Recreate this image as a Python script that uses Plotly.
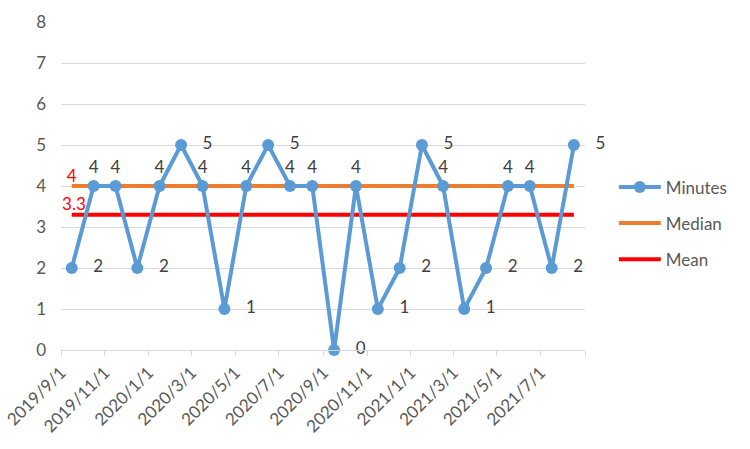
import plotly.graph_objects as go
import pandas as pd

dates = pd.date_range("2019-09-01", periods=24, freq="MS").strftime("%Y-%m-%d").tolist()
minutes = [2, 4, 4, 2, 4, 5, 4, 1, 4, 5, 4, 4, 0, 4, 1, 2, 5, 4, 1, 2, 4, 4, 2, 5]
median_val = 4
mean_val = 3.3

tick_dates = pd.date_range("2019-09-01", "2021-09-01", freq="2MS").strftime("%Y-%m-%d").tolist()
tick_labels = ["2019/9/1", "2019/11/1", "2020/1/1", "2020/3/1", "2020/5/1", "2020/7/1",
               "2020/9/1", "2020/11/1", "2021/1/1", "2021/3/1", "2021/5/1", "2021/7/1", ""]

median = [median_val] * len(dates)
mean = [mean_val] * len(dates)

FONT = "Lato"
TXT = "#404040"
FS = 17

pos = ["top center" if v == 4 else "middle right" for v in minutes]
labels = [str(v) if v == 4 else "   " + str(v) for v in minutes]

fig = go.Figure()
fig.add_trace(go.Scatter(
    x=dates, y=median, name="Median", mode="lines+text",
    xperiod="M1", xperiodalignment="middle", cliponaxis=False,
    line=dict(color="#ED7D31", width=4),
    text=[str(median_val)] + [""] * (len(dates) - 1), textposition="top center",
    textfont=dict(color="#FF0000", size=FS, family=FONT),
    legendgroup="b", legendrank=2,
))
fig.add_trace(go.Scatter(
    x=dates, y=mean, name="Mean", mode="lines+text",
    xperiod="M1", xperiodalignment="middle", cliponaxis=False,
    line=dict(color="#FF0000", width=4),
    text=[" " + str(mean_val)] + [""] * (len(dates) - 1), textposition="top center",
    textfont=dict(color="#FF0000", size=FS, family=FONT),
    legendgroup="c", legendrank=3,
))
fig.add_trace(go.Scatter(
    x=dates, y=minutes, name="Minutes", mode="lines+markers+text",
    xperiod="M1", xperiodalignment="middle", cliponaxis=False,
    line=dict(color="#5B9BD5", width=4),
    marker=dict(color="#5B9BD5", size=12),
    text=labels, textposition=pos,
    textfont=dict(color=TXT, size=FS, family=FONT),
    legendgroup="a", legendrank=1,
))

fig.update_layout(
    width=750, height=449,
    margin=dict(l=61, r=165, t=22, b=99),
    paper_bgcolor="white", plot_bgcolor="white",
    font=dict(family=FONT, color="#595959", size=FS),
    legend=dict(x=1.055, y=0.386, yanchor="middle", xanchor="left",
                traceorder="grouped", tracegroupgap=11, itemwidth=42,
                font=dict(size=FS, color="#595959")),
    xaxis=dict(
        type="date", automargin=False,
        range=["2019-09-01", "2021-09-01"],
        tickvals=tick_dates, ticktext=tick_labels,
        tickangle=-45, showgrid=False, showline=True, linecolor="#D9D9D9", linewidth=1,
        ticks="outside", tickcolor="#D9D9D9", ticklen=5,
        tickfont=dict(size=FS, color="#595959"),
    ),
    yaxis=dict(
        range=[0, 8], dtick=1, showgrid=True, gridcolor="#D9D9D9", gridwidth=1,
        automargin=False,
        zeroline=False, showline=False, ticks="", ticklabelstandoff=14,
        tickfont=dict(size=FS, color="#595959"),
    ),
)

fig.write_html("out.html")
